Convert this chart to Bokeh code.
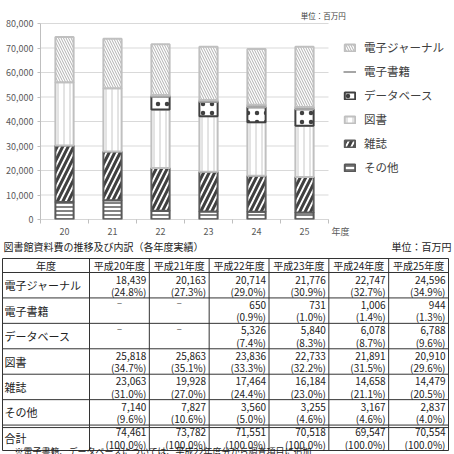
import numpy as np
from bokeh.plotting import figure
from bokeh.models import Range1d, FixedTicker, Legend, LegendItem, Label, ColumnDataSource
from bokeh.embed import file_html
from bokeh.resources import INLINE
from bokeh.core.properties import value

# ---------------- data ----------------
years = ["20", "21", "22", "23", "24", "25"]
year_headers = ["平成20年度", "平成21年度", "平成22年度", "平成23年度", "平成24年度", "平成25年度"]
other = [7140, 7827, 3560, 3255, 3167, 2837]
magazines = [23063, 19928, 17464, 16184, 14658, 14479]
books = [25818, 25863, 23836, 22733, 21891, 20910]
database = [None, None, 5326, 5840, 6078, 6788]
ebooks = [None, None, 650, 731, 1006, 944]
ejournal = [18439, 20163, 20714, 21776, 22747, 24596]
totals = [74461, 73782, 71551, 70518, 69547, 70554]
pct_ejournal = [24.8, 27.3, 29.0, 30.9, 32.7, 34.9]
pct_ebooks = [None, None, 0.9, 1.0, 1.4, 1.3]
pct_database = [None, None, 7.4, 8.3, 8.7, 9.6]
pct_books = [34.7, 35.1, 33.3, 32.2, 31.5, 29.6]
pct_magazines = [31.0, 27.0, 24.4, 23.0, 21.1, 20.5]
pct_other = [9.6, 10.6, 5.0, 4.6, 4.6, 4.0]
pct_totals = [100.0, 100.0, 100.0, 100.0, 100.0, 100.0]
y_ticks = [0, 10000, 20000, 30000, 40000, 50000, 60000, 70000, 80000]

FONT = "Noto Sans CJK JP"

# ---------------- chart ----------------
PX_X = 48.0
PX_Y = 80000 / 196.0
x_end = -0.5 + (454 - 40) / PX_X
y_end = 80000 + 23 * PX_Y
p = figure(width=454, height=240, x_range=Range1d(-0.5, x_end), y_range=Range1d(0, y_end),
           output_backend="svg", toolbar_location=None,
           min_border_left=40, min_border_right=0, min_border_top=0, min_border_bottom=21)
p.outline_line_color = None
p.grid.visible = False

# gridlines restricted to the bar area
p.segment(x0=[-0.5] * len(y_ticks), x1=[len(years) - 0.5] * len(y_ticks), y0=y_ticks, y1=y_ticks,
          line_color="#d9d9d9", line_width=1)

p.yaxis.ticker = FixedTicker(ticks=y_ticks)
p.yaxis.bounds = (0, 80000)
p.yaxis.major_label_overrides = {t: f"{t:,}" for t in y_ticks}
p.yaxis.axis_line_color = "#bfbfbf"
p.yaxis.major_tick_line_color = "#bfbfbf"
p.yaxis.major_tick_out = 3
p.yaxis.major_tick_in = 0
p.yaxis.minor_tick_line_color = None
p.yaxis.major_label_text_font = FONT
p.yaxis.major_label_text_font_size = "9px"
p.yaxis.major_label_text_color = "#595959"
p.yaxis.major_label_standoff = 4

xs = list(range(len(years)))
unit_pos = len(years) - 0.25
p.xaxis.ticker = FixedTicker(ticks=xs + [unit_pos], minor_ticks=[i - 0.5 for i in range(len(years) + 1)])
overrides = {i: y for i, y in enumerate(years)}
overrides[unit_pos] = "年度"
p.xaxis.major_label_overrides = overrides
p.xaxis.axis_line_color = None
p.xaxis.major_tick_line_color = None
p.xaxis.major_tick_out = 0
p.xaxis.major_tick_in = 0
p.xaxis.minor_tick_line_color = "#bfbfbf"
p.xaxis.minor_tick_out = 4
p.xaxis.minor_tick_in = 0
p.xaxis.major_label_text_font = FONT
p.xaxis.major_label_text_font_size = "9px"
p.xaxis.major_label_text_color = "#595959"
p.xaxis.major_label_standoff = 1
p.xaxis.axis_label_standoff = 0
# x axis baseline across the bar area only
p.segment(x0=[-0.5], x1=[len(years) - 0.5], y0=[0], y1=[0], line_color="#bfbfbf", line_width=1)

styles = [
    ("その他", other, dict(fill_color="white", line_color="#595959", hatch_pattern="-", hatch_color="#595959", hatch_scale=4, hatch_weight=1.5)),
    ("雑誌", magazines, dict(fill_color="white", line_color="#5a5a5a", hatch_pattern="/", hatch_color="#404040", hatch_scale=11, hatch_weight=3)),
    ("図書", books, dict(fill_color="white", line_color="#c0c0c0", hatch_pattern="|", hatch_color="#c8c8c8", hatch_scale=6, hatch_weight=1)),
    ("データベース", database, dict(fill_color="white", line_color="#404040", hatch_pattern=".", hatch_color="#404040", hatch_scale=9, hatch_weight=1.5)),
    ("電子書籍", ebooks, dict(fill_color="#a6a6a6", line_color="#a6a6a6")),
    ("電子ジャーナル", ejournal, dict(fill_color="white", line_color="#c0c0c0", hatch_pattern="\\", hatch_color="#b0b0b0", hatch_scale=5, hatch_weight=1)),
]

cum = np.zeros(len(years))
renderers = {}
for name, vals, st in styles:
    v = np.array([np.nan if x is None else x for x in vals], dtype=float)
    bottom = cum.copy()
    top = cum + np.nan_to_num(v)
    bottom[np.isnan(v)] = np.nan
    top[np.isnan(v)] = np.nan
    cum = cum + np.nan_to_num(v)
    src = ColumnDataSource(dict(x=xs, bottom=bottom, top=top))
    r = p.vbar(x="x", bottom="bottom", top="top", width=0.38, source=src, line_width=2, **st)
    renderers[name] = r

# legend line swatch for e-books (no visible points of its own)
line_r = p.line(x=[np.nan, np.nan], y=[np.nan, np.nan], line_color="#a6a6a6", line_width=2)

legend_items = [
    LegendItem(label="電子ジャーナル", renderers=[renderers["電子ジャーナル"]]),
    LegendItem(label="電子書籍", renderers=[line_r]),
    LegendItem(label="データベース", renderers=[renderers["データベース"]]),
    LegendItem(label="図書", renderers=[renderers["図書"]]),
    LegendItem(label="雑誌", renderers=[renderers["雑誌"]]),
    LegendItem(label="その他", renderers=[renderers["その他"]]),
]
legend = Legend(items=legend_items, location=(303, 43), label_text_font=FONT,
                label_text_font_size="11.5px", label_text_color="#404040",
                glyph_width=13, glyph_height=9, spacing=6, label_height=18,
                border_line_color=None, background_fill_alpha=0, padding=5, margin=0,
                label_standoff=8)
p.add_layout(legend)

p.add_layout(Label(x=4.92, y=80000 + 8 * PX_Y, text="単位：百万円", text_font=FONT,
                   text_font_size="7.5px", text_color="#404040", text_baseline="middle"))

# ---------------- table ----------------
t = figure(width=454, height=214, x_range=Range1d(0, 454), y_range=Range1d(214, 0),
           output_backend="svg", toolbar_location=None, min_border=0,
           x_axis_location=None, y_axis_location=None)
t.grid.visible = False
t.outline_line_color = None

row_labels = ["電子ジャーナル", "電子書籍", "データベース", "図書", "雑誌", "その他", "合計"]
row_vals = [ejournal, ebooks, database, books, magazines, other, totals]
row_pcts = [pct_ejournal, pct_ebooks, pct_database, pct_books, pct_magazines, pct_other, pct_totals]

left, label_right, right = 2.0, 89.0, 448.0
colw = (right - label_right) / len(years)
col_edges = [left, label_right] + [label_right + colw * (k + 1) for k in range(len(years))]
head_top, head_bot = 18.0, 32.0
rowh = (210.0 - head_bot) / len(row_labels)
row_edges = [head_top, head_bot] + [head_bot + rowh * (k + 1) for k in range(len(row_labels))]

hx0, hy0, hx1, hy1 = [], [], [], []
for yv in row_edges:
    hx0.append(left); hx1.append(right); hy0.append(yv); hy1.append(yv)
dbl = row_edges[-2] + 2.5
hx0.append(left); hx1.append(right); hy0.append(dbl); hy1.append(dbl)
for xv in col_edges:
    hx0.append(xv); hx1.append(xv); hy0.append(head_top); hy1.append(row_edges[-1])
t.segment(x0=hx0, y0=hy0, x1=hx1, y1=hy1, line_color="#333333", line_width=1)

t.text(x=[3], y=[6], text=["図書館資料費の推移及び内訳（各年度実績）"], text_font=value(FONT),
       text_font_size="10px", text_color="#222222", text_baseline="middle")
t.text(x=[451], y=[6], text=["単位：百万円"], text_font=value(FONT), text_font_size="10px",
       text_color="#222222", text_baseline="middle", text_align="right")

hx = [(col_edges[0] + col_edges[1]) / 2] + [(col_edges[i + 1] + col_edges[i + 2]) / 2 for i in range(len(years))]
hy = [(head_top + head_bot) / 2] * (len(years) + 1)
t.text(x=hx, y=hy, text=["年度"] + year_headers, text_font=value(FONT), text_font_size="10px",
       text_color="#222222", text_baseline="middle", text_align="center")

lx = [4] * len(row_labels)
ly = [(row_edges[i + 1] + row_edges[i + 2]) / 2 for i in range(len(row_labels))]
t.text(x=lx, y=ly, text=row_labels, text_font=value(FONT), text_font_size="11px",
       text_color="#222222", text_baseline="middle")

vx, vy, vt, dx, dy = [], [], [], [], []
for ri, (vals, pcts) in enumerate(zip(row_vals, row_pcts)):
    rtop = row_edges[ri + 1]
    for ci in range(len(years)):
        cr = col_edges[ci + 2] - 3
        if vals[ci] is None:
            dx.append((col_edges[ci + 1] + col_edges[ci + 2]) / 2); dy.append(rtop + 6)
        else:
            vx.append(cr); vy.append(rtop + 7); vt.append(f"{vals[ci]:,}")
            vx.append(cr); vy.append(rtop + 19); vt.append(f"({pcts[ci]:.1f}%)")
t.text(x=vx, y=vy, text=vt, text_font=value(FONT), text_font_size="10px",
       text_color="#222222", text_baseline="middle", text_align="right")
t.text(x=dx, y=dy, text=["−"] * len(dx), text_font=value(FONT), text_font_size="9px",
       text_color="#555555", text_baseline="middle", text_align="center")

t.text(x=[14], y=[211], text=["※電子書籍、データベースについては、平成22年度分から調査項目に追加"],
       text_font=value(FONT), text_font_size="9px", text_color="#222222", text_baseline="middle")

open("out.html", "w").write(file_html([p, t], INLINE))
